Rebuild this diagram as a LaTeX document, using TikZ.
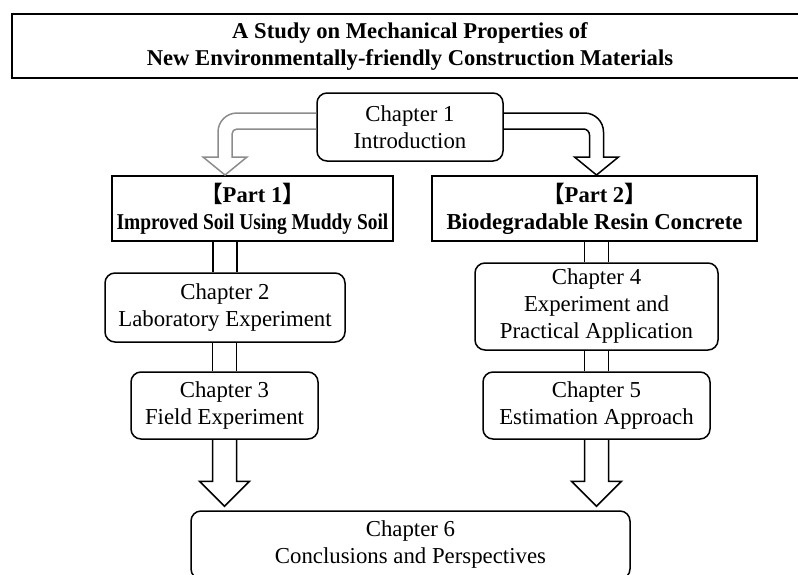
\documentclass[tikz,border=0pt]{standalone}
\usepackage{graphicx}
\usepackage{fontspec}
\setmainfont{Liberation Serif}
\newfontfamily\cjkfont{Noto Sans CJK JP}
\usetikzlibrary{calc}
\begin{document}
\begin{tikzpicture}[x=1pt,y=-1pt,
  txt/.style={font=\fontsize{22.8}{27}\selectfont, align=center, inner sep=0pt, rectangle},
  chap/.style={txt, draw, line width=1.5pt, rounded corners=10pt},
  boldbox/.style={txt, draw, line width=2pt, font=\fontsize{22.6}{27}\selectfont\bfseries},
  shaft/.style={draw, line width=1.5pt},
  hollow/.style={draw, line width=1.5pt, line join=miter},
  grayarrow/.style={hollow, draw=black!45}]
\useasboundingbox (0,0) rectangle (798,574);
\clip (0,0) rectangle (798,574);

% boxes
\node[boldbox, minimum width=796pt, minimum height=64pt] (title) at (410,46)
  {A Study on Mechanical Properties of\\New Environmentally-friendly Construction Materials};
\node[chap, minimum width=186pt, minimum height=68pt] (ch1) at (410,127) {Chapter 1\\Introduction};
\node[boldbox, minimum width=281pt, minimum height=65pt] (p1) at (252.5,208.5)
  {{\cjkfont\bfseries 【}Part 1{\cjkfont\bfseries 】}\\\scalebox{0.86}[1]{Improved Soil Using Muddy Soil}};
\node[boldbox, minimum width=325pt, minimum height=65pt] (p2) at (594.5,208.5)
  {{\cjkfont\bfseries 【}Part 2{\cjkfont\bfseries 】}\\{\fontsize{22.8}{27}\selectfont Biodegradable Resin Concrete}};
\node[chap, minimum width=240pt, minimum height=69pt] (ch2) at (225,307.5) {Chapter 2\\Laboratory Experiment};
\node[chap, minimum width=187pt, minimum height=67pt] (ch3) at (224.5,405.5) {Chapter 3\\Field Experiment};
\node[chap, minimum width=243pt, minimum height=87pt] (ch4) at (596.5,306.5) {Chapter 4\\Experiment and\\Practical Application};
\node[chap, minimum width=227pt, minimum height=67pt] (ch5) at (596.5,405.5) {Chapter 5\\Estimation Approach};
\node[chap, minimum width=439pt, minimum height=68pt] (ch6) at (410.5,545) {Chapter 6\\Conclusions and Perspectives};

% straight hollow shafts
\draw[shaft] ($(p1.south -| ch2.north)+(-12,0)$) -- ($(ch2.north)+(-12,0)$);
\draw[shaft] ($(p1.south -| ch2.north)+(12,0)$) -- ($(ch2.north)+(12,0)$);
\draw[shaft] ($(ch2.south -| ch3.north)+(-12,0)$) -- ($(ch3.north)+(-12,0)$);
\draw[shaft] ($(ch2.south -| ch3.north)+(12,0)$) -- ($(ch3.north)+(12,0)$);
\draw[shaft] ($(p2.south -| ch4.north)+(-12,0)$) -- ($(ch4.north)+(-12,0)$);
\draw[shaft] ($(p2.south -| ch4.north)+(12,0)$) -- ($(ch4.north)+(12,0)$);
\draw[shaft] ($(ch4.south -| ch5.north)+(-12,0)$) -- ($(ch5.north)+(-12,0)$);
\draw[shaft] ($(ch4.south -| ch5.north)+(12,0)$) -- ($(ch5.north)+(12,0)$);

% hollow arrows to chapter 6
\coordinate (tL) at ($(ch3.south |- ch6.north)+(0,-4)$);
\draw[hollow] ($(ch3.south)+(-12,0)$) -- ($(tL)+(-12,-25)$) -- ($(tL)+(-25,-25)$) -- (tL)
  -- ($(tL)+(25,-25)$) -- ($(tL)+(12,-25)$) -- ($(ch3.south)+(12,0)$);
\coordinate (tR) at ($(ch5.south |- ch6.north)+(0,-4)$);
\draw[hollow] ($(ch5.south)+(-12,0)$) -- ($(tR)+(-12,-25)$) -- ($(tR)+(-25,-25)$) -- (tR)
  -- ($(tR)+(25,-25)$) -- ($(tR)+(12,-25)$) -- ($(ch5.south)+(12,0)$);

% curved hollow arrows from chapter 1
\coordinate (lA) at ($(ch1.west)+(0,-14)$);
\coordinate (lB) at ($(ch1.west)+(0,2)$);
\coordinate (lTip) at (ch2.north |- p1.north);
\coordinate (lO) at ($(lTip |- lA)+(-7,0)$);
\coordinate (lI) at ($(lTip |- lB)+(7,0)$);
\draw[grayarrow] (lA) -- ($(lO)+(19,0)$) .. controls ($(lO)+(8.5,0)$) and ($(lO)+(0,8.5)$) .. ($(lO)+(0,19)$)
  -- ($(lTip)+(-7,-18)$) -- ($(lTip)+(-22,-18)$) -- (lTip) -- ($(lTip)+(22,-18)$) -- ($(lTip)+(7,-18)$)
  -- ($(lI)+(0,5)$) .. controls ($(lI)+(0,2.2)$) and ($(lI)+(2.2,0)$) .. ($(lI)+(5,0)$) -- (lB);

\coordinate (rA) at ($(ch1.east)+(0,-14)$);
\coordinate (rB) at ($(ch1.east)+(0,2)$);
\coordinate (rTip) at (ch4.north |- p2.north);
\coordinate (rO) at ($(rTip |- rA)+(7,0)$);
\coordinate (rI) at ($(rTip |- rB)+(-7,0)$);
\draw[hollow] (rA) -- ($(rO)+(-19,0)$) .. controls ($(rO)+(-8.5,0)$) and ($(rO)+(0,8.5)$) .. ($(rO)+(0,19)$)
  -- ($(rTip)+(7,-18)$) -- ($(rTip)+(22,-18)$) -- (rTip) -- ($(rTip)+(-22,-18)$) -- ($(rTip)+(-7,-18)$)
  -- ($(rI)+(0,6)$) .. controls ($(rI)+(0,2.7)$) and ($(rI)+(-2.7,0)$) .. ($(rI)+(-6,0)$) -- (rB);
\end{tikzpicture}
\end{document}
